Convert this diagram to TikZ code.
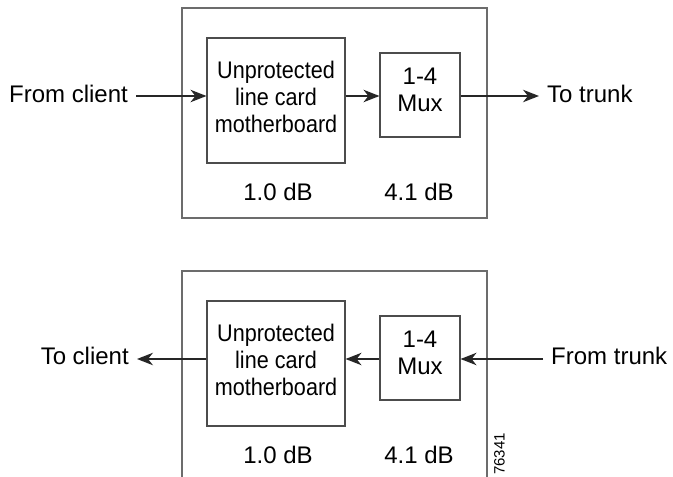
\documentclass[tikz,border=0pt]{standalone}
\usepackage{fontspec}
\setmainfont{Liberation Sans}
\newfontfamily\narrowfont[FakeStretch=0.9]{Liberation Sans}
\usetikzlibrary{arrows.meta}

\begin{document}
\begin{tikzpicture}[x=1pt,y=-1pt,
  >={Stealth[length=16pt,width=12.5pt,inset=5pt]},
  shelf/.style={draw=gray!85!black, line width=1.1pt, inner sep=0},
  box/.style={draw=gray!60!black, line width=1.1pt, inner sep=0},
  outside/.style={inner sep=8pt},
  signal/.style={draw=black!85, line width=1.4pt}]
\fontsize{24}{27}\selectfont
\useasboundingbox (0,0) rectangle (673,477);
\clip (0,0) rectangle (673,477);
\newcommand\linecard{
\node[shelf, minimum width=305, minimum height=210] (outer) at (334.5,113) {};
\node[box, minimum width=138, minimum height=125] (card) at (276,100.5) {};
\node[align=center, font=\narrowfont] (cardtext) at (276,96.5) {Unprotected\\line card\\motherboard};
\node[box, minimum width=80, minimum height=84] (mux) at (420,95) {};
\node[align=center] (muxtext) at (420,90) {1-4\\Mux};
\node[anchor=base] (carddb) at (278,200) {1.0 dB};
\node[anchor=base] (muxdb) at (419,200) {4.1 dB};
}
\begin{scope}
\linecard
\node[outside, anchor=base east] (client) at (136,102) {From client};
\node[outside, anchor=base west] (trunk) at (539,102) {To trunk};
\path[signal,->] (client.east |- 0,96) -- (card.west |- 0,96);
\path[signal,->] (card.east |- 0,96) -- (mux.west |- 0,96);
\path[signal,->] (mux.east |- 0,96) -- (trunk.west |- 0,96);
\end{scope}
\begin{scope}[yshift=-263pt]
\linecard
\node[outside, anchor=base east] (client) at (137,101) {To client};
\node[outside, anchor=base west] (trunk) at (543,101) {From trunk};
\path[signal,->] (trunk.west |- 0,96) -- (mux.east |- 0,96);
\path[signal,->] (mux.west |- 0,96) -- (card.east |- 0,96);
\path[signal,->] (card.west |- 0,96) -- (client.east |- 0,96);
\node[rotate=90, anchor=base west, inner sep=0, font=\fontsize{15}{15}\selectfont] (figid) at (504.5,212) {76341};
\end{scope}
\end{tikzpicture}
\end{document}
